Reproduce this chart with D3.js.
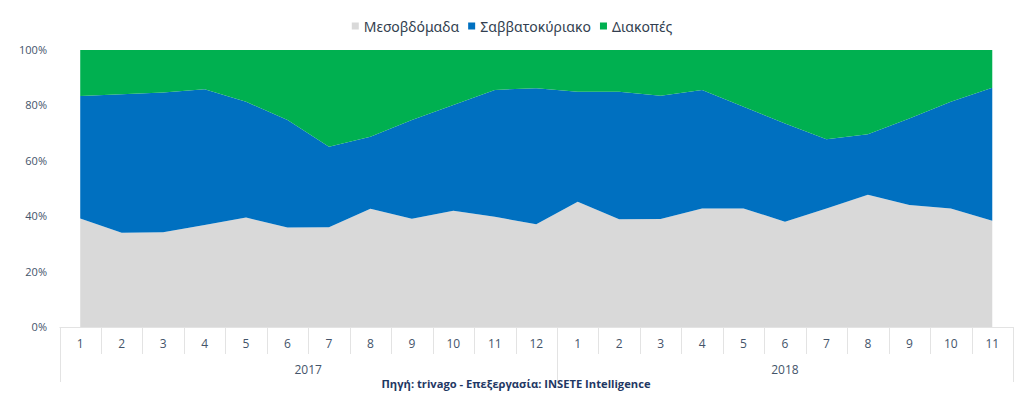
<!DOCTYPE html>
<html>
<head>
<meta charset="utf-8">
<script src="https://cdn.jsdelivr.net/npm/d3@7/dist/d3.min.js"></script>
<style>
  html, body { margin: 0; padding: 0; background: #ffffff; }
  svg { display: block; }
</style>
</head>
<body>
<svg id="chart" width="1024" height="402"></svg>
<script>
// ---- Data ----
const months = ["1","2","3","4","5","6","7","8","9","10","11","12","1","2","3","4","5","6","7","8","9","10","11"];
const yearLabels = ["2017", "2018"];
const yearCounts = [12, 11];
const seriesNames = ["Μεσοβδόμαδα", "Σαββατοκύριακο", "Διακοπές"];
const mesovdomada = [39.2,34.0,34.2,36.8,39.5,35.9,36.0,42.7,39.1,42.0,39.8,37.1,45.2,38.9,39.0,42.8,42.8,38.0,42.8,47.7,44.0,42.8,38.4];
const savvatokyriako = [44.2,50.0,50.5,49.0,41.8,38.8,29.1,26.0,35.6,38.1,45.8,49.1,39.7,46.0,44.5,42.8,36.7,35.5,25.0,21.9,31.3,38.5,48.0];
const diakopes = [16.6,16.0,15.3,14.2,18.7,25.3,34.9,31.3,25.3,19.9,14.4,13.8,15.1,15.1,16.5,14.4,20.5,26.5,32.2,30.4,24.7,18.7,13.6];
const yTicks = [0, 0.2, 0.4, 0.6, 0.8, 1.0];
const sourceText = "Πηγή: trivago - Επεξεργασία: INSETE Intelligence";

const colors = ["#d9d9d9", "#0070c0", "#00b050"];
const textColor = "#44546a";
const lineColor = "#e3e3e3";

// ---- Build table ----
const table = months.map((m, i) => ({
  i: i,
  [seriesNames[0]]: mesovdomada[i],
  [seriesNames[1]]: savvatokyriako[i],
  [seriesNames[2]]: diakopes[i]
}));
const stacked = d3.stack().keys(seriesNames).offset(d3.stackOffsetExpand)(table);

const svg = d3.select("#chart");

const pLeft = 59.5, pRight = 1013, pTop = 50, pBottom = 327;
const x = d3.scaleBand().domain(d3.range(months.length)).range([pLeft, pRight]).padding(0);
const bw = x.bandwidth();
const xc = i => x(i) + bw / 2;
const y = d3.scaleLinear().domain([0, 1]).range([pBottom, pTop]);

// ---- Areas ----
const area = d3.area()
  .x(d => xc(d.data.i))
  .y0(d => y(d[0]))
  .y1(d => y(d[1]));

svg.append("g").selectAll("path")
  .data(stacked)
  .join("path")
  .attr("d", area)
  .attr("fill", (d, k) => colors[k]);

// ---- Y axis ----
const yAxis = d3.axisLeft(y).tickValues(yTicks).tickFormat(d3.format(".0%")).tickSize(0).tickPadding(0);
const gy = svg.append("g").attr("transform", "translate(47,0)").call(yAxis);
gy.select(".domain").remove();
gy.selectAll("text")
  .attr("fill", textColor)
  .style("font-family", "'Open Sans', 'DejaVu Sans', sans-serif")
  .style("font-size", "11px");

// ---- X axis (month row + year row, boxed) ----
const gx = svg.append("g");
gx.append("line").attr("x1", pLeft).attr("x2", pRight).attr("y1", pBottom + 0.5).attr("y2", pBottom + 0.5)
  .attr("stroke", lineColor).attr("stroke-width", 1);
const monthSepY2 = 354;
const groupSepY2 = 382;
const bounds = [0];
yearCounts.forEach(c => bounds.push(bounds[bounds.length - 1] + c));
const isBound = new Set(bounds);
d3.range(months.length + 1).forEach(k => {
  const xx = k < months.length ? x(k) : pRight;
  gx.append("line")
    .attr("x1", Math.round(xx) + 0.5).attr("x2", Math.round(xx) + 0.5)
    .attr("y1", pBottom).attr("y2", isBound.has(k) ? groupSepY2 : monthSepY2)
    .attr("stroke", lineColor).attr("stroke-width", 1);
});
const monthAxis = d3.axisBottom(x).tickFormat(i => months[i]).tickSize(0).tickPadding(0);
const gm = svg.append("g").attr("transform", `translate(0,${pBottom})`).call(monthAxis);
gm.select(".domain").remove();
gm.selectAll("text")
  .attr("y", 21)
  .attr("dy", 0)
  .attr("fill", textColor)
  .style("font-family", "'Open Sans', 'DejaVu Sans', sans-serif")
  .style("font-size", "12px");

yearLabels.forEach((yl, j) => {
  const x0 = x(bounds[j]);
  const x1 = bounds[j + 1] < months.length ? x(bounds[j + 1]) : pRight;
  svg.append("text")
    .attr("x", (x0 + x1) / 2)
    .attr("y", 374)
    .attr("text-anchor", "middle")
    .attr("fill", textColor)
    .style("font-family", "'Open Sans', 'DejaVu Sans', sans-serif")
    .style("font-size", "12px")
    .text(yl);
});

// ---- Source ----
svg.append("text")
  .attr("x", 516)
  .attr("y", 388)
  .attr("text-anchor", "middle")
  .attr("fill", "#1f3864")
  .style("font-family", "'Open Sans', 'DejaVu Sans', sans-serif")
  .style("font-weight", "bold")
  .style("font-size", "11px")
  .attr("textLength", 269)
  .attr("lengthAdjust", "spacingAndGlyphs")
  .text(sourceText);

// ---- Legend ----
const lg = svg.append("g");
const items = lg.selectAll("g").data(seriesNames).join("g");
items.append("rect").attr("width", 7).attr("height", 7).attr("y", 22.5)
  .attr("fill", (d, k) => colors[k]);
items.append("text")
  .attr("x", 12)
  .attr("y", 32)
  .attr("fill", "#333f50")
  .style("font-family", "'Noto Sans', 'DejaVu Sans', sans-serif")
  .style("font-size", "14px")
  .text(d => d);
let cx = 0;
const gap = 9;
items.each(function () {
  const w = d3.select(this).select("text").node().getComputedTextLength();
  d3.select(this).attr("transform", `translate(${cx},0)`);
  cx += 12 + w + gap;
});
const totalW = cx - gap;
lg.attr("transform", `translate(${512 - totalW / 2},0)`);
</script>
</body>
</html>
